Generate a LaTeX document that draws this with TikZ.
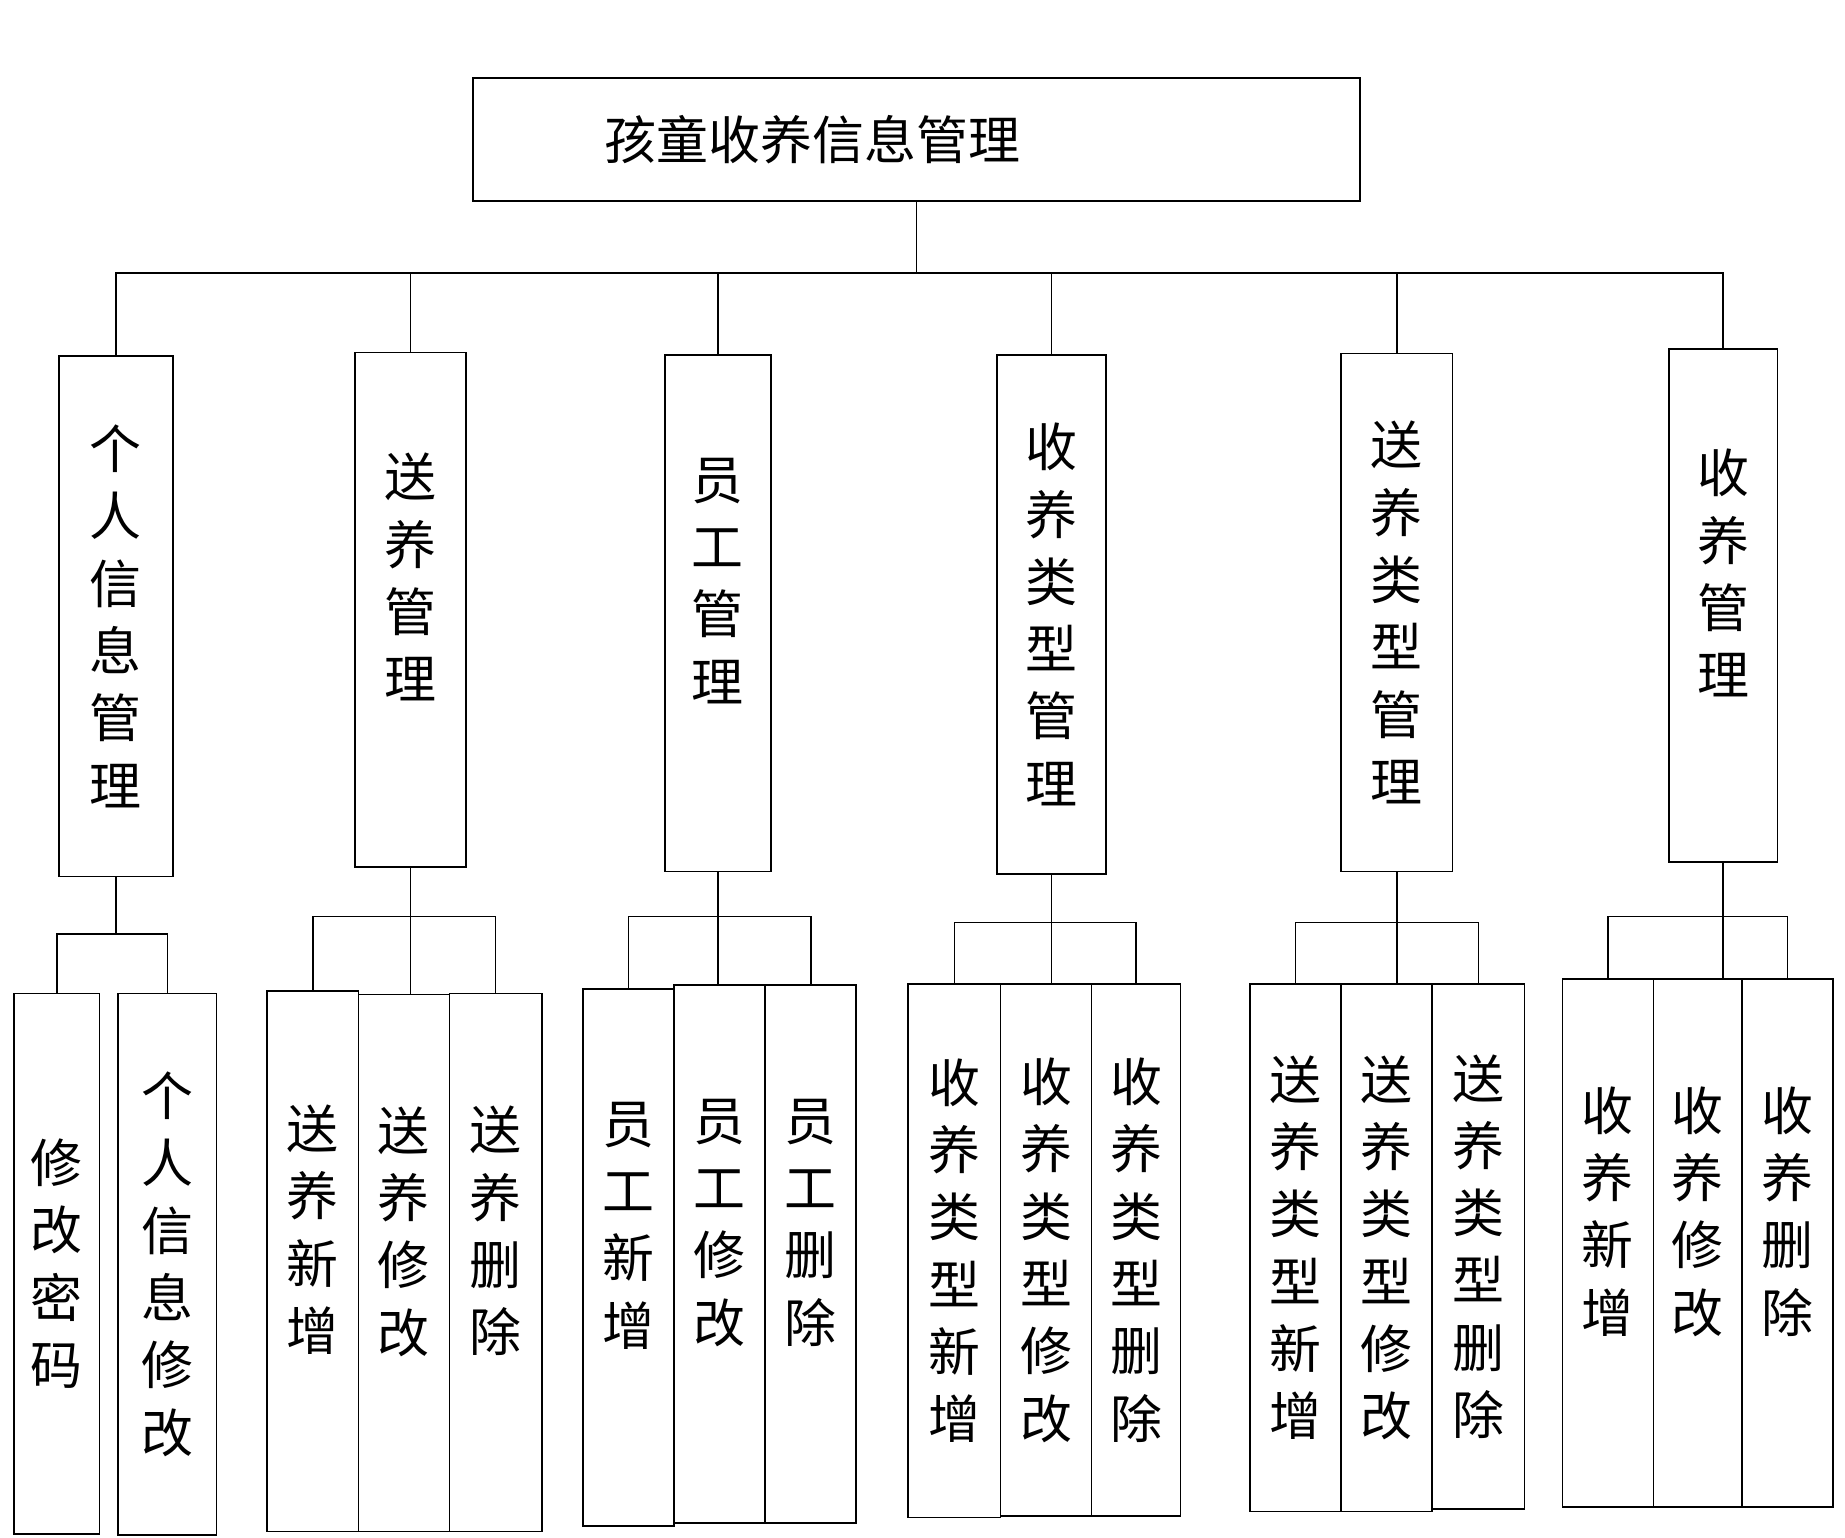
\documentclass[tikz,border=0pt]{standalone}
\usepackage{fontspec}
\setmainfont{Noto Sans CJK SC}
\newcommand\fsz{\fontsize{25pt}{32.4pt}\selectfont}
% box from x1 to x2, y1 to y2 (reference pixels)
\newcommand\bx[6]{\node[box, minimum width={(#3-#2)*0.02cm}, minimum height={(#5-#4)*0.02cm}] (#1) at ({(#2+#3)/2},{(#4+#5)/2}) {#6};}
\begin{document}
\begin{tikzpicture}[x=0.02cm, y=-0.02cm, thick]
	\tikzset{box/.style={draw, inner sep=0pt, align=center, font=\fsz}}
	\useasboundingbox (0,0) rectangle (1560,1300);

	\bx{root}{400}{1150}{66}{170}{\hspace*{-4em}孩童收养信息管理}

	\bx{p1}{50}{146}{301}{741}{个\\人\\信\\息\\管\\理}
	\bx{p2}{300}{394}{298}{733}{送\\养\\管\\理\\~}
	\bx{p3}{562}{652}{300}{737}{员\\工\\管\\理\\~}
	\bx{p4}{843}{935}{300}{739}{收\\养\\类\\型\\管\\理}
	\bx{p5}{1134}{1228}{299}{737}{送\\养\\类\\型\\管\\理}
	\bx{p6}{1411}{1503}{295}{729}{收\\养\\管\\理\\~}

	\bx{c11}{12}{84}{840}{1297}{修\\改\\密\\码}
	\bx{c12}{100}{183}{840}{1298}{个\\人\\信\\息\\修\\改}
	\bx{c21}{226}{303}{838}{1295}{送\\养\\新\\增\\~}
	\bx{c22}{303}{380}{841}{1295}{送\\养\\修\\改\\~}
	\bx{c23}{380}{458}{840}{1295}{送\\养\\删\\除\\~}
	\bx{c31}{493}{570}{836}{1290}{员\\工\\新\\增\\~}
	\bx{c32}{570}{647}{833}{1288}{员\\工\\修\\改\\~}
	\bx{c33}{647}{724}{833}{1288}{员\\工\\删\\除\\~}
	\bx{c41}{768}{846}{832}{1283}{收\\养\\类\\型\\新\\增}
	\bx{c42}{846}{923}{832}{1282}{收\\养\\类\\型\\修\\改}
	\bx{c43}{923}{998}{832}{1282}{收\\养\\类\\型\\删\\除}
	\bx{c51}{1057}{1134}{832}{1278}{送\\养\\类\\型\\新\\增}
	\bx{c52}{1134}{1211}{832}{1278}{送\\养\\类\\型\\修\\改}
	\bx{c53}{1211}{1289}{832}{1276}{送\\养\\类\\型\\删\\除}
	\bx{c61}{1321}{1398}{828}{1274}{收\\养\\新\\增\\~}
	\bx{c62}{1398}{1473}{828}{1274}{收\\养\\修\\改\\~}
	\bx{c63}{1473}{1550}{828}{1274}{收\\养\\删\\除\\~}

	% top level
	\coordinate (top) at (root.south |- 0,231);
	\draw (root.south) -- (top);
	\draw (p1.north) |- (top) -| (p6.north);
	\foreach \p in {p2,p3,p4,p5}
		\draw (\p.north) -- (\p.north |- top);

	% groups
	\coordinate (b1) at (p1.south |- 0,790);
	\draw (p1.south) -- (b1);
	\draw (c11.north) |- (b1) -| (c12.north);
	\foreach \g/\y in {2/775,3/775,4/780,5/780,6/775} {
		\coordinate (b\g) at (p\g.south |- 0,\y);
		\draw (p\g.south) -- (p\g.south |- c\g2.north);
		\draw (c\g1.north) |- (b\g) -| (c\g3.north);
	}
\end{tikzpicture}
\end{document}
